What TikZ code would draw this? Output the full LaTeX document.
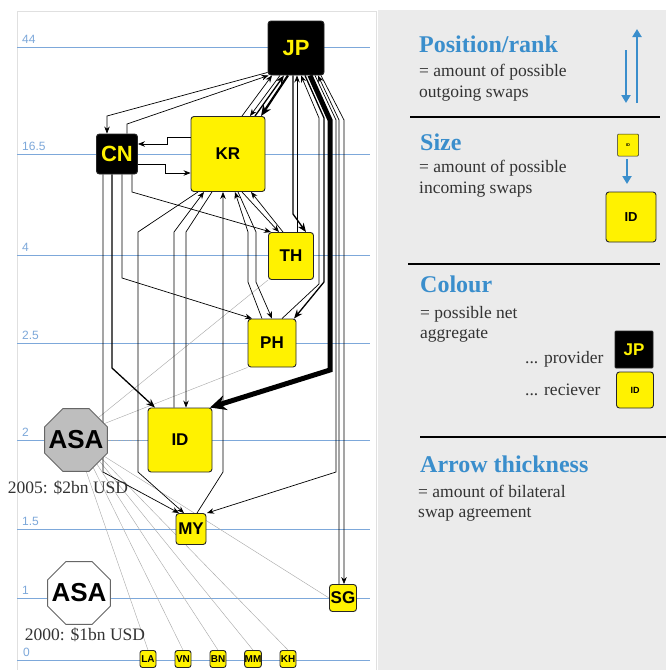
\documentclass[tikz,border=0pt]{standalone}
\usepackage{fontspec}
\setmainfont{Liberation Serif}
\newfontfamily\nodefont{Liberation Sans}
\usetikzlibrary{arrows.meta,shapes.geometric}
\pgfdeclarelayer{bg}
\pgfdeclarelayer{edges}
\pgfsetlayers{bg,edges,main}
\definecolor{gridblue}{RGB}{125,168,218}
\definecolor{headblue}{RGB}{58,142,204}
\definecolor{bodygrey}{RGB}{51,51,51}
\definecolor{panelgrey}{RGB}{235,235,235}
\definecolor{asagray}{RGB}{190,190,190}
\newcommand\nfs[1]{\nodefont\bfseries\fontsize{#1}{#1}\selectfont}
\begin{document}
\begin{tikzpicture}[x=1pt,y=-1pt,line join=round,
 cnode/.style={draw=black!85,line width=0.9pt,rounded corners=3pt,inner sep=0pt},
 prov/.style={cnode,fill=black,text=yellow},
 recv/.style={cnode,fill=yellow,text=black},
 e1/.style={line width=0.7pt,-{Stealth[length=7pt,width=5.5pt]}},
 e2/.style={line width=1.3pt,-{Stealth[length=9pt,width=7pt]}},
 e3/.style={line width=2.2pt,-{Stealth[length=11pt,width=9pt]}},
 e4/.style={line width=5pt,-{Stealth[length=16pt,width=15pt]}},
 gl/.style={line width=0.4pt,draw=black!35},
 gridline/.style={draw=gridblue,line width=0.8pt},
 gridlab/.style={anchor=base west,text=gridblue,font=\nodefont\fontsize{12}{12}\selectfont,inner sep=0pt},
 head/.style={anchor=base west,inner sep=0pt,text=headblue,font=\bfseries\fontsize{24}{24}\selectfont},
 body/.style={anchor=base west,inner sep=0pt,text=bodygrey,font=\fontsize{17.5}{17.5}\selectfont},
 sepline/.style={line width=2.5pt,draw=black},
 barrow/.style={draw=headblue,line width=2pt,-{Triangle[length=8pt,width=9pt]}},
 octa/.style={regular polygon,regular polygon sides=8,minimum size=68pt,inner sep=0pt,draw=black!60,line width=0.9pt},
 octatext/.style={inner sep=0pt,font=\nfs{26}},
]
\useasboundingbox (0,0) rectangle (666,670);

\begin{pgfonlayer}{bg}
\fill[white] (0,0) rectangle (666,670);
\draw[black!12,line width=0.6pt] (17,11) rectangle (376,671);
\fill[panelgrey] (378,10) rectangle (666,670);
\foreach \yy in {47,154,255,343,440,529,598,660} \draw[gridline] (17,\yy) -- (370,\yy);
\end{pgfonlayer}

\node[gridlab] (g44) at (22,43) {44};
\node[gridlab] (g165) at (22,150) {16.5};
\node[gridlab] (g4) at (22,251) {4};
\node[gridlab] (g25) at (22,339) {2.5};
\node[gridlab] (g2) at (22,436) {2};
\node[gridlab] (g15) at (22,525) {1.5};
\node[gridlab] (g1) at (22,594) {1};
\node[gridlab] (g0) at (23,656) {0};

% nodes
\node[prov,minimum width=56pt,minimum height=54pt,font=\nfs{22}] (JP) at (296,48) {JP};
\node[prov,minimum width=41pt,minimum height=40pt,font=\nfs{22}] (CN) at (117,154) {CN};
\node[recv,minimum width=74pt,minimum height=75pt,font=\nfs{17}] (KR) at (228,154) {KR};
\node[recv,minimum width=45pt,minimum height=47pt,font=\nfs{17}] (TH) at (291,256) {TH};
\node[recv,minimum width=48pt,minimum height=48pt,font=\nfs{17}] (PH) at (272,343) {PH};
\node[recv,minimum width=64pt,minimum height=64pt,font=\nfs{17}] (ID) at (180,440) {ID};
\node[recv,minimum width=30pt,minimum height=31pt,font=\nfs{17}] (MY) at (191,529) {MY};
\node[recv,minimum width=27pt,minimum height=27pt,font=\nfs{17}] (SG) at (343,598) {SG};
\foreach \nm/\xx in {LA/148,VN/183,BN/218,MM/253,KH/288}
  \node[recv,minimum width=16pt,minimum height=17pt,rounded corners=2.5pt,font=\nfs{10}] (\nm) at (\xx,659) {\nm};
\node[octa,fill=asagray] (asa1) at (76,440) {};
\node[octatext] (asa1t) at (asa1.center) {ASA};
\node[octa,fill=white] (asa2) at (79,593) {};
\node[octatext] (asa2t) at (asa2.center) {ASA};
\node[body,anchor=base] (t2005) at (68,493) {2005: \$2bn USD};
\node[body,anchor=base] (t2000) at (85,640) {2000: \$1bn USD};

\begin{pgfonlayer}{edges}
% grey ASA lines
\draw[gl] (asa1.45) -- (TH.south west);
\draw[gl] (asa1.30) -- (PH.south west);
\draw[gl,dotted] (asa1.east) -- (ID.west);
\draw[gl] (asa1.-30) -- (SG.west);
\draw[gl] (asa1.-72) -- (LA.north);
\draw[gl] (asa1.-58) -- (VN.north);
\draw[gl] (asa1.-49) -- (BN.north);
\draw[gl] (asa1.-42) -- (MM.north);
\draw[gl] (asa1.-36) -- (KH.north);
% JP <-> CN
\draw[e1] ([yshift=3pt]JP.south west) -- (107,116) -- ([xshift=-10pt]CN.north);
\draw[e1] ([xshift=10pt]CN.north) -- (127,124) -- ([xshift=1pt]JP.south west);
% KR <-> CN
\draw[e1] ([yshift=17pt]KR.west) -- (167,137) -- (167,144) -- ([yshift=10pt]CN.east);
\draw[e1] ([yshift=-10pt]CN.east) -- (165,164) -- (165,173) -- ([yshift=-19pt]KR.west);
% JP <-> KR
\draw[e3] ([xshift=-8pt]JP.south) -- ([xshift=33pt]KR.north);
\draw[e1] ([xshift=14pt]KR.north) -- ([xshift=-24pt]JP.south);
\draw[e1] ([xshift=-16pt]JP.south) -- ([xshift=22pt]KR.north);
\draw[e2] ([xshift=27pt]KR.north) -- ([xshift=-12pt]JP.south);
% JP <-> TH
\draw[e2] ([xshift=-3pt]JP.south) -- (293,214) -- ([xshift=15pt]TH.north);
\draw[e1] ([xshift=6pt]TH.north) -- ([xshift=1pt]JP.south);
% JP -> ID thick
\draw[e4] ([xshift=14pt]JP.south) -- (330,120) -- (330,370) -- ([xshift=30pt]ID.north);
% JP <-> PH
\draw[e2] ([xshift=9pt]JP.south) -- (324,118) -- (324,282) -- ([xshift=22pt]PH.north);
\draw[e1] ([xshift=10pt]PH.north) -- (319,284) -- (319,118) -- ([xshift=5pt]JP.south);
% JP -> MY, JP <-> SG
\draw[e1] ([xshift=19pt]JP.south) -- (336,120) -- (336,472) -- ([xshift=16pt]MY.north);
\draw[e1] ([xshift=-4pt]SG.north) -- (339,120) -- ([xshift=22pt]JP.south);
\draw[e1] ([xshift=25pt]JP.south) -- (344,120) -- ([xshift=1pt]SG.north);
% CN outgoing
\draw[e2] ([xshift=-5pt]CN.south) -- (112,368) -- ([xshift=-25pt]ID.north);
\draw[e1] ([xshift=-14pt]CN.south) -- (103,472) -- ([xshift=-12pt]MY.north);
\draw[e1] ([xshift=5pt]CN.south) -- (122,278) -- ([xshift=-20pt]PH.north);
\draw[e1] ([xshift=15pt]CN.south) -- (132,192) -- ([xshift=-20pt]TH.north);
% KR bottom
\draw[e1] ([xshift=-30pt]KR.south) -- (138,232) -- (138,472) -- ([xshift=-7pt]MY.north);
\draw[e1] ([xshift=-6pt]ID.north) -- (174,232) -- ([xshift=-24pt]KR.south);
\draw[e1] ([xshift=-16pt]KR.south) -- (186,232) -- ([xshift=6pt]ID.north);
\draw[e1] ([xshift=6pt]MY.north) -- (223,472) -- ([xshift=-5pt]KR.south);
\draw[e1] ([xshift=-8pt]TH.north) -- ([xshift=23pt]KR.south);
\draw[e1] ([xshift=14pt]KR.south) -- ([xshift=-12pt]TH.north);
\draw[e1] ([xshift=-10pt]PH.north) -- (248,282) -- (248,232) -- ([xshift=7pt]KR.south);
\draw[e1] ([xshift=10pt]KR.south) -- (256,232) -- (256,282) -- (PH.north);
\end{pgfonlayer}

% legend panel
\node[head] (hpos) at (419,52) {Position/rank};
\node[body] (bpos1) at (419,76) {= amount of possible};
\node[body] (bpos2) at (419,97) {outgoing swaps};
\coordinate (pa1) at (626,50); \coordinate (pa2) at (626,103);
\coordinate (pb1) at (637,103); \coordinate (pb2) at (637,29);
\draw[barrow] (pa1) -- (pa2);
\draw[barrow] (pb1) -- (pb2);
\draw[sepline] (410,117) -- (660,117);

\node[head] (hsize) at (420,150) {Size};
\node[body] (bsz1) at (419,172) {= amount of possible};
\node[body] (bsz2) at (419,193) {incoming swaps};
\node[recv,minimum width=21pt,minimum height=22pt,rounded corners=1pt,line width=0.5pt,font=\nfs{4}] (lgs) at (628,145) {ID};
\node[recv,minimum width=50pt,minimum height=50pt,font=\nfs{13}] (lgb) at (631,217) {ID};
\coordinate (sa1) at (627,159); \coordinate (sa2) at (627,184);
\draw[barrow] (sa1) -- (sa2);
\draw[sepline] (408,264) -- (660,264);

\node[head] (hcol) at (420,292) {Colour};
\node[body] (bcol1) at (420,318) {= possible net};
\node[body] (bcol2) at (420,338) {aggregate};
\node[body] (bprov) at (525,363) {... provider};
\node[body] (brec) at (525,395) {... reciever};
\node[prov,minimum width=38pt,minimum height=37pt,rounded corners=1pt,font=\nfs{17}] (lgjp) at (634,349.5) {JP};
\node[recv,minimum width=37pt,minimum height=36pt,font=\nfs{9}] (lgid) at (635,390) {ID};
\draw[sepline] (420,437) -- (666,437);

\node[head] (harr) at (420,472) {Arrow thickness};
\node[body] (barr1) at (418,497) {= amount of bilateral};
\node[body] (barr2) at (418,517) {swap agreement};
\end{tikzpicture}
\end{document}
